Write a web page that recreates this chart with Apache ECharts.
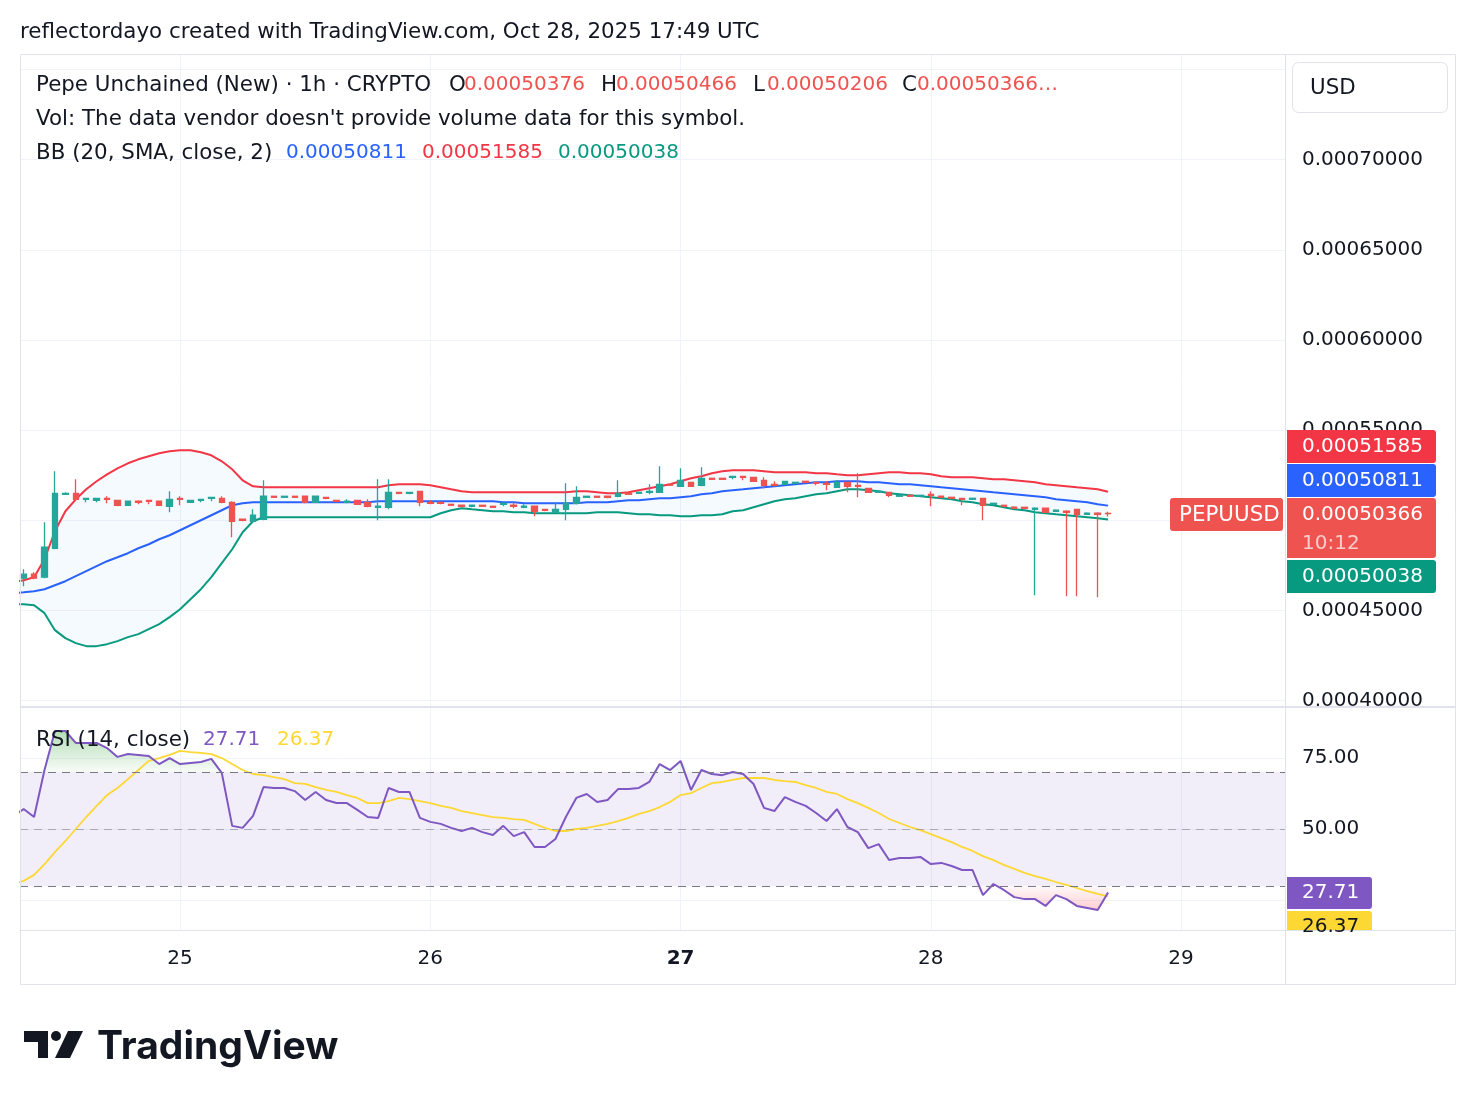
<!DOCTYPE html>
<html>
<head>
<meta charset="utf-8">
<title>PEPUUSD 1h</title>
<script src="https://cdn.jsdelivr.net/npm/echarts@6/dist/echarts.min.js"></script>
<style>
  html, body { margin: 0; padding: 0; background: #fff; }
  #chart { width: 1476px; height: 1106px; }
</style>
</head>
<body>
<div id="chart"></div>
<script>
// hourly candles, first one (24 Oct 08:00 UTC) sits just left of the visible area
const firstCandle = Date.UTC(2025, 9, 24, 8);
const HOUR = 3600 * 1000;

const opens = [
  0.00046676, 0.00046787, 0.00047008, 0.00046842, 0.00048449, 0.00051440, 0.00051496, 0.00051163, 0.00051108, 0.00051219,
  0.00051108, 0.00050831, 0.00051053, 0.00051108, 0.00051053, 0.00050776, 0.00051219, 0.00050997, 0.00051108, 0.00051219,
  0.00051219, 0.00050997, 0.00050055, 0.00049945, 0.00050055, 0.00051330, 0.00051274, 0.00051330, 0.00051330, 0.00050997,
  0.00051274, 0.00051108, 0.00050997, 0.00051108, 0.00050997, 0.00050720, 0.00050720, 0.00051551, 0.00051496, 0.00051607,
  0.00050997, 0.00050997, 0.00050886, 0.00050831, 0.00050776, 0.00050831, 0.00050776, 0.00050886, 0.00050831, 0.00050720,
  0.00050776, 0.00050609, 0.00050443, 0.00050609, 0.00050942, 0.00051274, 0.00051330, 0.00051330, 0.00051330, 0.00051496,
  0.00051496, 0.00051551, 0.00051551, 0.00051994, 0.00051884, 0.00052105, 0.00051939, 0.00052327, 0.00052327, 0.00052382,
  0.00052438, 0.00052382, 0.00052216, 0.00051994, 0.00051994, 0.00052050, 0.00052161, 0.00052105, 0.00052050, 0.00051828,
  0.00052105, 0.00051939, 0.00051773, 0.00051551, 0.00051551, 0.00051330, 0.00051385, 0.00051330, 0.00051440, 0.00051330,
  0.00051274, 0.00051219, 0.00051163, 0.00051219, 0.00050886, 0.00050831, 0.00050720, 0.00050720, 0.00050609, 0.00050665,
  0.00050499, 0.00050499, 0.00050609, 0.00050332, 0.00050388, 0.00050376
];
const closes = [
  0.00046731, 0.00047008, 0.00046787, 0.00048504, 0.00051496, 0.00051496, 0.00051163, 0.00051219, 0.00051219, 0.00051163,
  0.00050831, 0.00051053, 0.00050997, 0.00051053, 0.00050831, 0.00051163, 0.00051163, 0.00051108, 0.00051163, 0.00051274,
  0.00050997, 0.00049945, 0.00050000, 0.00050277, 0.00051330, 0.00051274, 0.00051330, 0.00051274, 0.00050997, 0.00051330,
  0.00051219, 0.00051053, 0.00051053, 0.00050886, 0.00050776, 0.00050776, 0.00051551, 0.00051496, 0.00051551, 0.00050997,
  0.00050942, 0.00050942, 0.00050831, 0.00050776, 0.00050831, 0.00050776, 0.00050720, 0.00050942, 0.00050776, 0.00050776,
  0.00050499, 0.00050554, 0.00050609, 0.00050942, 0.00051274, 0.00051330, 0.00051274, 0.00051274, 0.00051496, 0.00051440,
  0.00051551, 0.00051607, 0.00051994, 0.00051939, 0.00052216, 0.00051884, 0.00052327, 0.00052271, 0.00052271, 0.00052438,
  0.00052382, 0.00052161, 0.00051939, 0.00051939, 0.00052161, 0.00052105, 0.00052105, 0.00052050, 0.00051994, 0.00052105,
  0.00051884, 0.00051884, 0.00051551, 0.00051607, 0.00051385, 0.00051385, 0.00051330, 0.00051385, 0.00051385, 0.00051274,
  0.00051219, 0.00051163, 0.00051219, 0.00050831, 0.00050942, 0.00050776, 0.00050665, 0.00050665, 0.00050665, 0.00050443,
  0.00050554, 0.00050443, 0.00050332, 0.00050388, 0.00050332, 0.00050366
];
const lows = [
  0.00046565, 0.00046344, 0.00046731, 0.00046787, 0.00048393, 0.00051440, 0.00051163, 0.00050997, 0.00050997, 0.00050942,
  0.00050776, 0.00050831, 0.00050886, 0.00050886, 0.00050831, 0.00050443, 0.00050831, 0.00050997, 0.00050997, 0.00051053,
  0.00050942, 0.00049058, 0.00049945, 0.00049945, 0.00050000, 0.00051274, 0.00051274, 0.00051274, 0.00050942, 0.00050997,
  0.00051163, 0.00050997, 0.00050942, 0.00050886, 0.00050720, 0.00050000, 0.00050609, 0.00051440, 0.00051440, 0.00050776,
  0.00050886, 0.00050886, 0.00050831, 0.00050720, 0.00050720, 0.00050776, 0.00050720, 0.00050776, 0.00050665, 0.00050665,
  0.00050222, 0.00050499, 0.00050443, 0.00050000, 0.00050886, 0.00051274, 0.00051274, 0.00051219, 0.00051274, 0.00051440,
  0.00051496, 0.00051440, 0.00051551, 0.00051939, 0.00051884, 0.00051884, 0.00051884, 0.00052271, 0.00052271, 0.00052271,
  0.00052216, 0.00052161, 0.00051773, 0.00051884, 0.00051994, 0.00052050, 0.00052105, 0.00051939, 0.00051662, 0.00051828,
  0.00051551, 0.00051274, 0.00051551, 0.00051551, 0.00051274, 0.00051330, 0.00051330, 0.00051330, 0.00050776, 0.00051219,
  0.00051219, 0.00050831, 0.00051163, 0.00050000, 0.00050886, 0.00050776, 0.00050609, 0.00050665, 0.00045845, 0.00050443,
  0.00050499, 0.00045790, 0.00045790, 0.00050332, 0.00045734, 0.00050206
];
const highs = [
  0.00046842, 0.00047285, 0.00047119, 0.00049889, 0.00052715, 0.00051551, 0.00052271, 0.00051219, 0.00051219, 0.00051330,
  0.00051108, 0.00051053, 0.00051108, 0.00051108, 0.00051053, 0.00051607, 0.00051330, 0.00051108, 0.00051163, 0.00051274,
  0.00051330, 0.00051053, 0.00050055, 0.00050609, 0.00052216, 0.00051330, 0.00051330, 0.00051330, 0.00051330, 0.00051330,
  0.00051274, 0.00051108, 0.00051163, 0.00051108, 0.00051163, 0.00052271, 0.00052271, 0.00051551, 0.00051551, 0.00051607,
  0.00051108, 0.00050997, 0.00050886, 0.00050831, 0.00050831, 0.00050831, 0.00050776, 0.00050942, 0.00050997, 0.00050886,
  0.00050776, 0.00050609, 0.00050997, 0.00052050, 0.00051884, 0.00051330, 0.00051330, 0.00051330, 0.00052216, 0.00051496,
  0.00051551, 0.00051994, 0.00052992, 0.00051994, 0.00052881, 0.00052105, 0.00052936, 0.00052327, 0.00052327, 0.00052438,
  0.00052438, 0.00052382, 0.00052382, 0.00052161, 0.00052161, 0.00052105, 0.00052161, 0.00052161, 0.00052161, 0.00052216,
  0.00052105, 0.00052604, 0.00051773, 0.00051607, 0.00051551, 0.00051385, 0.00051385, 0.00051385, 0.00051607, 0.00051330,
  0.00051274, 0.00051219, 0.00051219, 0.00051219, 0.00050942, 0.00050831, 0.00050776, 0.00050720, 0.00050720, 0.00050665,
  0.00050609, 0.00050554, 0.00050609, 0.00050443, 0.00050443, 0.00050466
];

// Bollinger Bands (20, SMA, close, 2)
const bbUpper = [
  0.00046565, 0.00046676, 0.00046842, 0.00047839, 0.00049391, 0.00050499, 0.00051163, 0.00051717, 0.00052161, 0.00052548,
  0.00052881, 0.00053158, 0.00053379, 0.00053546, 0.00053712, 0.00053823, 0.00053878, 0.00053878, 0.00053767, 0.00053601,
  0.00053269, 0.00052825, 0.00052216, 0.00051884, 0.00051828, 0.00051828, 0.00051828, 0.00051828, 0.00051828, 0.00051828,
  0.00051828, 0.00051828, 0.00051828, 0.00051828, 0.00051828, 0.00051828, 0.00051939, 0.00051994, 0.00051994, 0.00051994,
  0.00051939, 0.00051828, 0.00051717, 0.00051607, 0.00051551, 0.00051551, 0.00051551, 0.00051551, 0.00051551, 0.00051551,
  0.00051551, 0.00051551, 0.00051551, 0.00051551, 0.00051607, 0.00051607, 0.00051551, 0.00051496, 0.00051496, 0.00051551,
  0.00051662, 0.00051773, 0.00051884, 0.00051994, 0.00052161, 0.00052327, 0.00052438, 0.00052604, 0.00052715, 0.00052770,
  0.00052770, 0.00052770, 0.00052715, 0.00052659, 0.00052659, 0.00052659, 0.00052659, 0.00052604, 0.00052604, 0.00052548,
  0.00052493, 0.00052493, 0.00052548, 0.00052604, 0.00052659, 0.00052659, 0.00052604, 0.00052604, 0.00052548, 0.00052438,
  0.00052382, 0.00052382, 0.00052382, 0.00052327, 0.00052271, 0.00052271, 0.00052216, 0.00052161, 0.00052105, 0.00051994,
  0.00051939, 0.00051884, 0.00051828, 0.00051773, 0.00051717, 0.00051585
];
const bbBasis = [
  0.00045956, 0.00046011, 0.00046067, 0.00046177, 0.00046399, 0.00046621, 0.00046898, 0.00047175, 0.00047452, 0.00047729,
  0.00047950, 0.00048172, 0.00048449, 0.00048670, 0.00048947, 0.00049169, 0.00049446, 0.00049723, 0.00050000, 0.00050277,
  0.00050554, 0.00050831, 0.00050942, 0.00050997, 0.00050997, 0.00050997, 0.00050997, 0.00050997, 0.00050997, 0.00050997,
  0.00050997, 0.00050997, 0.00050997, 0.00050997, 0.00050997, 0.00051053, 0.00051053, 0.00051053, 0.00051053, 0.00051053,
  0.00051053, 0.00051053, 0.00051053, 0.00051053, 0.00051053, 0.00051053, 0.00051053, 0.00050997, 0.00050997, 0.00050942,
  0.00050942, 0.00050942, 0.00050942, 0.00050942, 0.00050942, 0.00050997, 0.00050997, 0.00050997, 0.00051053, 0.00051108,
  0.00051108, 0.00051163, 0.00051219, 0.00051219, 0.00051274, 0.00051330, 0.00051440, 0.00051496, 0.00051607, 0.00051662,
  0.00051717, 0.00051773, 0.00051828, 0.00051884, 0.00051939, 0.00051994, 0.00052050, 0.00052105, 0.00052105, 0.00052161,
  0.00052161, 0.00052161, 0.00052105, 0.00052105, 0.00052050, 0.00051994, 0.00051994, 0.00051939, 0.00051884, 0.00051828,
  0.00051773, 0.00051717, 0.00051662, 0.00051607, 0.00051551, 0.00051496, 0.00051440, 0.00051385, 0.00051330, 0.00051274,
  0.00051163, 0.00051108, 0.00051053, 0.00050997, 0.00050886, 0.00050811
];
const bbLower = [
  0.00045346, 0.00045346, 0.00045291, 0.00044848, 0.00043906, 0.00043463, 0.00043186, 0.00043020, 0.00043020, 0.00043130,
  0.00043297, 0.00043518, 0.00043684, 0.00043961, 0.00044238, 0.00044626, 0.00045069, 0.00045623, 0.00046177, 0.00046842,
  0.00047618, 0.00048393, 0.00049335, 0.00049945, 0.00050166, 0.00050166, 0.00050166, 0.00050166, 0.00050166, 0.00050166,
  0.00050166, 0.00050166, 0.00050166, 0.00050166, 0.00050166, 0.00050166, 0.00050166, 0.00050166, 0.00050166, 0.00050166,
  0.00050166, 0.00050388, 0.00050554, 0.00050665, 0.00050609, 0.00050554, 0.00050499, 0.00050499, 0.00050443, 0.00050443,
  0.00050388, 0.00050388, 0.00050388, 0.00050388, 0.00050388, 0.00050388, 0.00050443, 0.00050443, 0.00050443, 0.00050388,
  0.00050332, 0.00050332, 0.00050277, 0.00050277, 0.00050222, 0.00050222, 0.00050277, 0.00050277, 0.00050332, 0.00050499,
  0.00050554, 0.00050720, 0.00050886, 0.00051053, 0.00051163, 0.00051219, 0.00051330, 0.00051440, 0.00051496, 0.00051607,
  0.00051717, 0.00051717, 0.00051662, 0.00051607, 0.00051496, 0.00051440, 0.00051385, 0.00051330, 0.00051274, 0.00051219,
  0.00051163, 0.00051053, 0.00050997, 0.00050886, 0.00050831, 0.00050720, 0.00050609, 0.00050554, 0.00050443, 0.00050388,
  0.00050332, 0.00050277, 0.00050222, 0.00050166, 0.00050111, 0.00050038
];

// RSI (14, close) and its moving average
const rsi = [
  54.6, 57.0, 54.2, 70.7, 84.4, 84.4, 80.2, 80.2, 80.2, 78.4,
  75.3, 76.3, 76.0, 75.6, 72.8, 74.9, 72.8, 73.2, 73.5, 74.6,
  69.7, 51.1, 50.4, 54.6, 64.7, 64.4, 64.4, 63.3, 60.2, 63.0,
  60.2, 59.1, 59.1, 56.7, 54.2, 53.9, 64.4, 63.0, 63.0, 53.9,
  52.5, 51.8, 50.4, 49.3, 50.4, 48.9, 47.9, 51.1, 47.5, 48.9,
  43.7, 43.7, 46.5, 54.2, 60.9, 62.3, 59.5, 60.2, 64.0, 64.0,
  64.4, 66.5, 72.8, 70.7, 73.9, 63.7, 70.7, 69.3, 68.9, 70.0,
  69.3, 65.8, 57.4, 56.3, 61.2, 59.5, 58.1, 55.6, 52.8, 57.0,
  50.7, 48.9, 43.3, 44.7, 39.1, 39.8, 39.8, 40.2, 37.7, 38.1,
  37.0, 35.6, 35.6, 26.8, 30.7, 28.6, 26.1, 25.4, 25.4, 23.0,
  26.8, 25.4, 23.0, 22.3, 21.6, 27.71
];
const rsiMa = [
  30.7, 31.8, 33.9, 37.7, 41.9, 45.8, 50.0, 54.2, 58.1, 61.9,
  64.4, 67.5, 70.7, 73.9, 74.9, 76.0, 77.4, 77.0, 76.7, 76.3,
  74.9, 72.8, 70.7, 69.3, 68.9, 68.2, 67.5, 66.1, 65.8, 64.7,
  63.7, 63.0, 61.9, 60.9, 59.1, 59.1, 59.8, 60.9, 60.5, 59.8,
  59.1, 58.1, 57.4, 56.3, 55.6, 54.9, 54.2, 53.9, 53.5, 53.2,
  51.8, 50.4, 49.3, 49.3, 50.0, 50.4, 51.1, 51.8, 52.8, 53.9,
  55.3, 56.3, 57.7, 59.5, 61.9, 62.6, 64.4, 66.1, 66.5, 67.2,
  67.9, 67.9, 67.9, 67.2, 66.8, 66.5, 65.4, 64.4, 63.0, 62.3,
  60.5, 59.1, 57.4, 55.6, 53.5, 52.1, 50.7, 49.6, 48.2, 46.8,
  45.4, 43.7, 42.3, 40.5, 39.1, 37.4, 36.0, 34.6, 33.5, 32.5,
  31.4, 30.4, 29.3, 28.2, 27.2, 26.37
];

const priceTicks = [0.0004, 0.00045, 0.0005, 0.00055, 0.0006, 0.00065, 0.0007, 0.00075];
const rsiTicks = [25, 50, 75];
const rsiBands = [70, 50, 30];

const FONT = '"DejaVu Sans", sans-serif';
const TEXT = '#131722';
const UP = '#26a69a', DOWN = '#ef5350';
const WORD = 21.4;   // size for words; digits stay at 20

const times = opens.map((_, k) => firstCandle + k * HOUR);
const candles = times.map((t, k) => [t, opens[k], closes[k], lows[k], highs[k]]);
const pair = arr => times.map((t, k) => [t, arr[k]]);
const xMin = Date.UTC(2025, 9, 24, 8, 39);
const xMax = Date.UTC(2025, 9, 29, 9, 58);

function txt(x, y, text, color, size, extra) {
  return {
    type: 'text', x: x, y: y, z: 100,
    style: Object.assign({
      text: text, fill: color || TEXT, fontSize: size || 20, fontFamily: FONT,
      verticalAlign: 'middle', align: 'left'
    }, extra || {})
  };
}
function box(x, y, w, h, fill, r) {
  return { type: 'rect', z: 90, shape: { x: x, y: y, width: w, height: h, r: r || 0 }, style: { fill: fill } };
}
function hline(x1, x2, y, color, w, z) {
  return { type: 'line', z: z || 80, shape: { x1: x1, y1: y, x2: x2, y2: y }, style: { stroke: color, lineWidth: w || 1 } };
}
function vline(x, y1, y2, color, w) {
  return { type: 'line', z: 80, shape: { x1: x, y1: y1, x2: x, y2: y2 }, style: { stroke: color, lineWidth: w || 1 } };
}

const chart = echarts.init(document.getElementById('chart'));

const xCommon = {
  type: 'time', min: xMin, max: xMax,
  minInterval: 24 * HOUR, maxInterval: 24 * HOUR,
  axisTick: { show: false },
  splitLine: { show: true, lineStyle: { color: '#f0f3fa', width: 1 } }
};

chart.setOption({
  animation: false,
  useUTC: true,
  backgroundColor: '#ffffff',
  grid: [
    { left: 20, right: 191, top: 55, height: 651 },
    { left: 20, right: 191, top: 708, height: 222 }
  ],
  xAxis: [
    Object.assign({}, xCommon, {
      gridIndex: 0,
      axisLine: { show: false },
      axisLabel: { show: false }
    }),
    Object.assign({}, xCommon, {
      gridIndex: 1,
      axisLine: { show: true, lineStyle: { color: '#e0e3eb', width: 1 } },
      axisLabel: {
        color: TEXT, fontSize: 20, fontFamily: FONT, margin: 19,
        formatter: function (v) {
          const d = new Date(v).getUTCDate();
          return d === 27 ? '{b|27}' : String(d);
        },
        rich: { b: { fontWeight: 'bold', fontSize: 20, fontFamily: FONT, color: TEXT } }
      }
    })
  ],
  yAxis: [
    {
      gridIndex: 0, type: 'value', position: 'right',
      min: 0.000397, max: 0.000758,
      axisLine: { show: false },
      axisTick: { show: false, customValues: priceTicks },
      axisLabel: {
        customValues: priceTicks, color: TEXT, fontSize: 20, fontFamily: FONT, margin: 17,
        padding: [4, 0, 0, 0],
        formatter: v => (v > 0.00074 ? '' : v.toFixed(8))
      },
      splitLine: { show: true, lineStyle: { color: '#f0f3fa', width: 1 } }
    },
    {
      gridIndex: 1, type: 'value', position: 'right',
      min: 14.56, max: 92.46,
      axisLine: { show: false },
      axisTick: { show: false, customValues: rsiTicks },
      axisLabel: {
        customValues: rsiTicks, color: TEXT, fontSize: 20, fontFamily: FONT, margin: 17,
        padding: [4, 0, 0, 0],
        formatter: v => v.toFixed(2)
      },
      splitLine: { show: true, lineStyle: { color: '#f0f3fa', width: 1 } }
    }
  ],
  series: [
    // Bollinger band background: invisible base + stacked width
    {
      name: 'bbBase', type: 'line', xAxisIndex: 0, yAxisIndex: 0, stack: 'bb',
      data: pair(bbLower), symbol: 'none', lineStyle: { opacity: 0 }, z: 1, silent: true
    },
    {
      name: 'bbFill', type: 'line', xAxisIndex: 0, yAxisIndex: 0, stack: 'bb',
      data: times.map((t, k) => [t, bbUpper[k] - bbLower[k]]),
      symbol: 'none', lineStyle: { opacity: 0 },
      areaStyle: { color: 'rgba(33,150,243,0.06)' }, z: 1, silent: true
    },
    {
      name: 'Upper', type: 'line', xAxisIndex: 0, yAxisIndex: 0, data: pair(bbUpper),
      symbol: 'none', lineStyle: { color: '#f23645', width: 2 }, z: 2
    },
    {
      name: 'Basis', type: 'line', xAxisIndex: 0, yAxisIndex: 0, data: pair(bbBasis),
      symbol: 'none', lineStyle: { color: '#2962ff', width: 2 }, z: 2
    },
    {
      name: 'Lower', type: 'line', xAxisIndex: 0, yAxisIndex: 0, data: pair(bbLower),
      symbol: 'none', lineStyle: { color: '#089981', width: 2 }, z: 2
    },
    {
      name: 'PEPUUSD', type: 'candlestick', xAxisIndex: 0, yAxisIndex: 0,
      data: candles, encode: { x: 0, y: [1, 2, 3, 4] },
      barWidth: 6, z: 5,
      itemStyle: { color: UP, color0: DOWN, borderColor: UP, borderColor0: DOWN, borderWidth: 1.3 }
    },
    // RSI pane
    {
      name: 'rsiOver', type: 'line', xAxisIndex: 1, yAxisIndex: 1,
      data: times.map((t, k) => [t, Math.max(rsi[k], 70)]),
      symbol: 'none', lineStyle: { opacity: 0 }, z: 2, silent: true,
      areaStyle: {
        origin: 70,
        color: new echarts.graphic.LinearGradient(0, 0, 0, 1, [
          { offset: 0, color: 'rgba(76,175,80,0.6)' },
          { offset: 1, color: 'rgba(76,175,80,0.06)' }
        ])
      }
    },
    {
      name: 'rsiUnder', type: 'line', xAxisIndex: 1, yAxisIndex: 1,
      data: times.map((t, k) => [t, Math.min(rsi[k], 30)]),
      symbol: 'none', lineStyle: { opacity: 0 }, z: 2, silent: true,
      areaStyle: {
        origin: 30,
        color: new echarts.graphic.LinearGradient(0, 1, 0, 0, [
          { offset: 0, color: 'rgba(242,54,69,0.35)' },
          { offset: 1, color: 'rgba(242,54,69,0.04)' }
        ])
      }
    },
    {
      name: 'RSI', type: 'line', xAxisIndex: 1, yAxisIndex: 1, data: pair(rsi),
      symbol: 'none', lineStyle: { color: '#7e57c2', width: 2 }, z: 4,
      markArea: {
        silent: true,
        itemStyle: { color: 'rgba(126,87,194,0.1)' },
        data: [[{ yAxis: 30 }, { yAxis: 70 }]]
      },
      markLine: {
        silent: true, symbol: 'none', label: { show: false },
        data: rsiBands.map(v => ({
          yAxis: v,
          lineStyle: { color: v === 50 ? 'rgba(120,123,134,0.55)' : '#787b86', type: [8, 6], width: 1.2 }
        }))
      }
    },
    {
      name: 'RSI MA', type: 'line', xAxisIndex: 1, yAxisIndex: 1, data: pair(rsiMa),
      symbol: 'none', lineStyle: { color: '#fdd835', width: 1.8 }, z: 3
    }
  ],
  graphic: {
    elements: [
      // frame and pane separators
      { type: 'rect', z: 80, shape: { x: 20.5, y: 54.5, width: 1435, height: 930 }, style: { fill: null, stroke: '#e0e3eb', lineWidth: 1 } },
      vline(1285.5, 55, 985, '#e0e3eb', 1),
      // the lowest price label is cut by the pane border
      { type: 'rect', z: 85, shape: { x: 1286, y: 707, width: 169, height: 14 }, style: { fill: '#fff' } },
      hline(20, 1456, 707, '#e0e3eb', 2, 86),

      // header
      txt(20, 32, 'reflectordayo created with TradingView.com, Oct 28, 2025 17:49 UTC', TEXT, WORD),

      // legend, main pane
      txt(36, 85, 'Pepe Unchained (New) · 1h · CRYPTO', TEXT, WORD),
      txt(449, 85, 'O', TEXT, WORD), txt(464, 85, '0.00050376', DOWN),
      txt(601, 85, 'H', TEXT, WORD), txt(616, 85, '0.00050466', DOWN),
      txt(753, 85, 'L', TEXT, WORD), txt(767, 85, '0.00050206', DOWN),
      txt(902, 85, 'C', TEXT, WORD), txt(917, 85, '0.00050366…', DOWN),
      txt(36, 119, "Vol: The data vendor doesn't provide volume data for this symbol.", TEXT, WORD),
      txt(36, 153, 'BB (20, SMA, close, 2)', TEXT, WORD),
      txt(286, 153, '0.00050811', '#2962ff'),
      txt(422, 153, '0.00051585', '#f23645'),
      txt(558, 153, '0.00050038', '#089981'),

      // legend, RSI pane
      txt(36, 740, 'RSI (14, close)', TEXT, WORD),
      txt(203, 740, '27.71', '#7e57c2'),
      txt(277, 740, '26.37', '#fdd835'),

      // currency box
      { type: 'rect', z: 90, shape: { x: 1292.5, y: 62.5, width: 155, height: 50, r: 6 }, style: { fill: '#fff', stroke: '#e0e3eb', lineWidth: 1 } },
      txt(1310, 88, 'USD', TEXT, WORD),

      // price scale tags
      box(1287, 430, 149, 33, '#f23645', [0, 3, 3, 0]),
      txt(1302, 447, '0.00051585', '#fff'),
      box(1287, 464, 149, 33, '#2962ff', [0, 3, 3, 0]),
      txt(1302, 481, '0.00050811', '#fff'),
      box(1287, 498, 149, 60, DOWN, [0, 3, 3, 0]),
      txt(1302, 515, '0.00050366', '#fff'),
      txt(1302, 544, '10:12', 'rgba(255,255,255,0.7)'),
      box(1287, 560, 149, 33, '#089981', [0, 3, 3, 0]),
      txt(1302, 577, '0.00050038', '#fff'),
      box(1170, 498, 113, 33, DOWN, 3),
      txt(1179, 515, 'PEPUUSD', '#fff', WORD),

      // RSI scale tags
      box(1287, 877, 85, 32, '#7e57c2', [0, 3, 3, 0]),
      txt(1302, 893, '27.71', '#fff'),
      box(1287, 911, 85, 30, '#fdd835', [0, 3, 3, 0]),
      txt(1302, 927, '26.37', TEXT),
      { type: 'rect', z: 95, shape: { x: 1286, y: 931, width: 169, height: 20 }, style: { fill: '#fff' } },
      hline(1286, 1456, 930.5, '#e0e3eb', 1, 96),

      // TradingView logo
      { type: 'polygon', z: 100, shape: { points: [[24, 1031], [48, 1031], [48, 1058], [38, 1058], [38, 1042], [24, 1042]] }, style: { fill: '#131722' } },
      { type: 'circle', z: 100, shape: { cx: 56, cy: 1036, r: 5 }, style: { fill: '#131722' } },
      { type: 'polygon', z: 100, shape: { points: [[68, 1031], [83, 1031], [70, 1058], [55, 1058]] }, style: { fill: '#131722' } },
      txt(97, 1047, 'TradingView', '#131722', 39, { fontFamily: 'Inter, "DejaVu Sans", sans-serif', fontWeight: 'bold' })
    ]
  }
});
</script>
</body>
</html>
